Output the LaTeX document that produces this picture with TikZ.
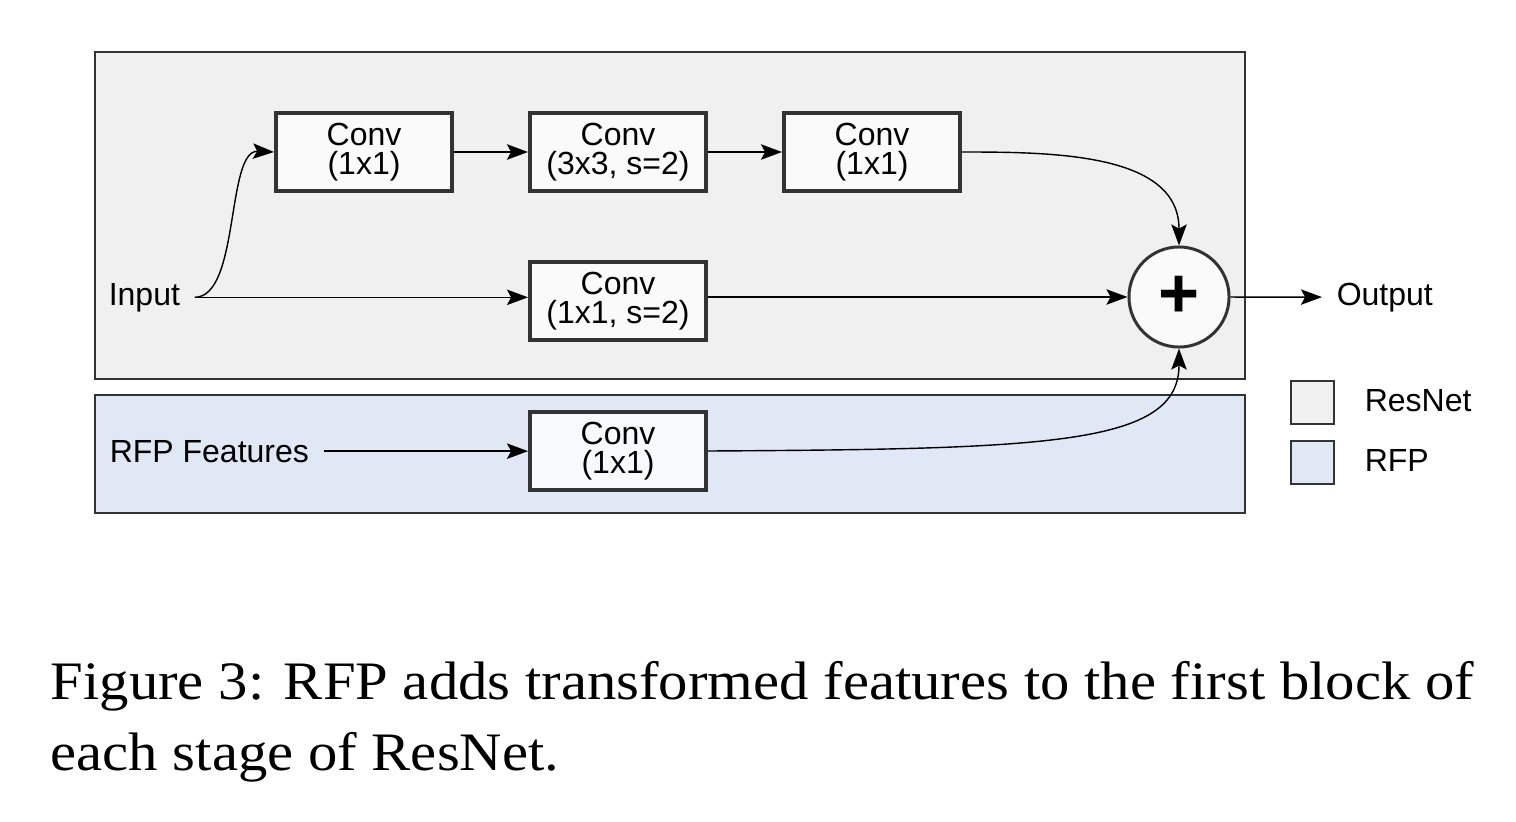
\documentclass[tikz,border=0pt]{standalone}
\usepackage{fontspec}
\setmainfont{Liberation Serif}
\setsansfont{Liberation Sans}
\newfontfamily\capfont[FakeStretch=1.084]{Liberation Serif}
\usetikzlibrary{arrows.meta}
\usetikzlibrary{positioning}

\definecolor{resnetgray}{HTML}{F0F0F0}
\definecolor{rfpblue}{HTML}{DFE8F4}
\definecolor{boxwhite}{HTML}{FAFAFA}
\definecolor{rfpwhite}{HTML}{F7F9FC}
\definecolor{edgegray}{HTML}{333333}

\begin{document}
\begin{tikzpicture}[x=0.01cm,y=-0.01cm,
    conv/.style={draw=edgegray,line width=1.1pt,fill=boxwhite,minimum width=1.76cm,minimum height=0.78cm,inner sep=0pt,align=center,font=\sffamily\fontsize{9.1}{8.3}\selectfont},
    lbl/.style={font=\sffamily\fontsize{9.1}{11}\selectfont,inner xsep=4pt,inner ysep=0pt},
    legbox/.style={draw=edgegray,line width=0.45pt,minimum size=0.43cm,inner sep=0pt},
    arr/.style={-{Stealth[length=6pt,width=4.4pt,inset=1.2pt]},line width=0.4pt},
]

\useasboundingbox (0,0) rectangle (1516,821);

% panels
\draw[fill=resnetgray,draw=edgegray,line width=0.45pt] (95,52) rectangle (1245,379);
\draw[fill=rfpblue,draw=edgegray,line width=0.45pt] (95,395) rectangle (1245,513);

% blocks
\node[conv] (conva) at (364,152) {Conv\\(1x1)};
\node[conv] (convb) at (618,152) {Conv\\(3x3, s=2)};
\node[conv] (convc) at (872,152) {Conv\\(1x1)};
\node[conv] (convs) at (618,301) {Conv\\(1x1, s=2)};
\node[conv,fill=rfpwhite] (convr) at (618,451) {Conv\\(1x1)};

\node[circle,draw=edgegray,line width=0.85pt,fill=boxwhite,minimum size=1.0cm,inner sep=0pt,
      font=\sffamily\bfseries\fontsize{20}{20}\selectfont] (plus) at (1179,297) {+};

% labels
\node[lbl,anchor=base west] (input) at (94,305) {Input};
\node[lbl,anchor=base west] (rfpin) at (95,462) {RFP Features};
\node[lbl,anchor=base west] (output) at (1322,305) {Output};

% connections
\draw[arr] (input.east) .. controls (240,297) and (226,150) .. (conva.west);
\draw[arr] (conva) -- (convb);
\draw[arr] (convb) -- (convc);
\draw[arr] (convc.east) to[out=0,in=90] (plus.north);
\draw[arr] (input.east) -- (input.east -| convs.west);
\draw[arr] (convs.east |- plus) -- (plus);
\draw[arr] (rfpin.east) -- (rfpin.east -| convr.west);
\draw[arr] (convr.east) .. controls (1050,449) and (1179,445) .. (plus.south);
\draw[arr] (plus) -- (output);

% legend
\node[legbox,fill=resnetgray] (legres) at (1312.5,402.5) {};
\node[legbox,fill=rfpblue] (legrfp) at (1312.5,462.5) {};
\node[lbl,anchor=west] (txtres) at (1350,401) {ResNet};
\node[lbl,anchor=west] (txtrfp) at (1350,460) {RFP};

% caption
\node[anchor=base west,inner sep=0pt,font=\capfont\fontsize{15.4}{20}\selectfont] (capa) at (50,699)
    {Figure 3: RFP adds transformed features to the first block of};
\node[anchor=base west,inner sep=0pt,font=\capfont\fontsize{15.4}{20}\selectfont] (capb) at (50,770)
    {each stage of ResNet.};

\end{tikzpicture}
\end{document}
